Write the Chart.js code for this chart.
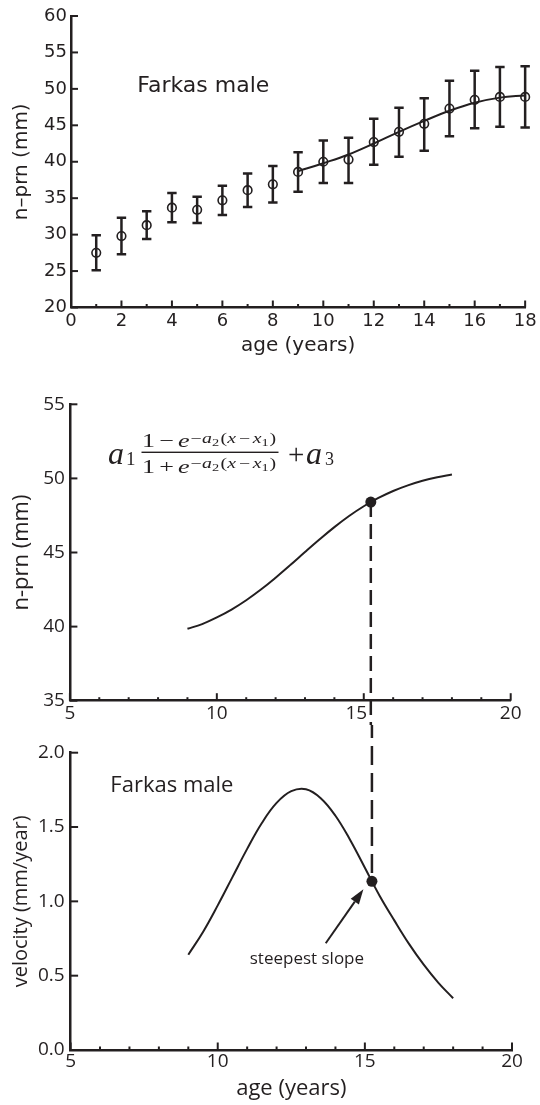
<!DOCTYPE html>
<html>
<head>
<meta charset="utf-8">
<title>Farkas male n-prn growth</title>
<script src="https://cdn.jsdelivr.net/npm/chart.js@4.4.0/dist/chart.umd.min.js"></script>
<style>
    html, body { margin: 0; padding: 0; background: #ffffff; }
    #wrap { position: relative; width: 540px; height: 1105px; overflow: hidden; }
    canvas { position: absolute; left: 0; }
    #topChart { top: 0; }
    #midChart { top: 365px; }
    #botChart { top: 725px; }
</style>
</head>
<body>
<div id="wrap">
    <canvas id="topChart" width="540" height="365"></canvas>
    <canvas id="midChart" width="540" height="360"></canvas>
    <canvas id="botChart" width="540" height="380"></canvas>
</div>
<script>
    // ---- data ----
    // top panel: measured means with +/- bars
    const ages = [1, 2, 3, 4, 5, 6, 7, 8, 9, 10, 11, 12, 13, 14, 15, 16, 17, 18];
    const meanNprn = [27.5, 29.8, 31.3, 33.7, 33.4, 34.7, 36.1, 36.9, 38.6, 40.0, 40.3, 42.7, 44.1, 45.2, 47.3, 48.5, 48.9, 48.9];
    const upperNprn = [29.9, 32.3, 33.2, 35.7, 35.2, 36.7, 38.4, 39.4, 41.3, 42.9, 43.3, 45.9, 47.4, 48.7, 51.1, 52.5, 53.0, 53.1];
    const lowerNprn = [25.1, 27.3, 29.4, 31.7, 31.6, 32.7, 33.8, 34.4, 35.9, 37.1, 37.1, 39.6, 40.7, 41.5, 43.5, 44.6, 44.8, 44.7];

    // top panel: fitted curve over the measured points
    const fitAges = [9, 10, 11, 12, 13, 14, 15, 16, 17, 18];
    const fitNprn = [38.7, 39.8, 41.0, 42.5, 44.1, 45.6, 47.0, 48.1, 48.8, 49.1];

    // middle / bottom panels: model curve and its velocity
    const modelAges = [9, 9.5, 10, 10.5, 11, 11.5, 12, 12.5, 13, 13.5, 14, 14.5, 15, 15.5, 16, 16.5, 17, 17.5, 18];
    const modelNprn = [39.85, 40.17, 40.62, 41.15, 41.78, 42.50, 43.30, 44.15, 45.03, 45.89, 46.71, 47.46, 48.12, 48.68, 49.15, 49.53, 49.84, 50.08, 50.27];
    const modelVelocity = [0.641, 0.794, 0.973, 1.163, 1.353, 1.527, 1.662, 1.741, 1.754, 1.694, 1.576, 1.413, 1.226, 1.038, 0.872, 0.714, 0.574, 0.452, 0.348];

    // point of steepest slope
    const steepestAge = 15.24;
    const steepestNprn = 48.4;
    const steepestVelocity = 1.135;

    const INK = '#231f20';
    const FONT_TOP = "'DejaVu Sans', sans-serif";
    const FONT_LOW = "'Open Sans', 'Noto Sans', sans-serif";
    const SERIF = "'Liberation Serif', 'DejaVu Serif', serif";

    function points(xs, ys) {
        return xs.map((x, i) => ({ x: x, y: ys[i] }));
    }

    // ---- plugins ----

    // short tick marks pointing into the plot
    function innerTicks(major, minor) {
        return {
            id: 'innerTicks',
            afterDraw(chart) {
                const { ctx, chartArea } = chart;
                const xs = chart.scales.x;
                const ys = chart.scales.y;
                ctx.save();
                ctx.strokeStyle = INK;
                ctx.lineWidth = 2;
                xs.ticks.forEach(t => {
                    const px = xs.getPixelForValue(t.value);
                    const len = t.label !== '' ? major : minor;
                    ctx.beginPath();
                    ctx.moveTo(px, chartArea.bottom);
                    ctx.lineTo(px, chartArea.bottom - len);
                    ctx.stroke();
                });
                ys.ticks.forEach(t => {
                    const py = ys.getPixelForValue(t.value);
                    const len = t.label !== '' ? major : minor;
                    ctx.beginPath();
                    ctx.moveTo(chartArea.left, py);
                    ctx.lineTo(chartArea.left + len, py);
                    ctx.stroke();
                });
                ctx.restore();
            }
        };
    }

    // free text placed in data coordinates
    function notes(list) {
        return {
            id: 'notes',
            afterDatasetsDraw(chart) {
                const { ctx } = chart;
                const xs = chart.scales.x;
                const ys = chart.scales.y;
                ctx.save();
                ctx.fillStyle = INK;
                ctx.textBaseline = 'middle';
                list.forEach(n => {
                    ctx.font = n.font;
                    ctx.textAlign = n.align;
                    ctx.fillText(n.text, xs.getPixelForValue(n.x), ys.getPixelForValue(n.y));
                });
                ctx.restore();
            }
        };
    }

    // vertical bars with caps for the top panel
    const errorBars = {
        id: 'errorBars',
        beforeDatasetsDraw(chart) {
            const { ctx } = chart;
            const xs = chart.scales.x;
            const ys = chart.scales.y;
            const cap = 4.7;
            ctx.save();
            ctx.strokeStyle = INK;
            ctx.lineWidth = 2.5;
            ages.forEach((age, i) => {
                const px = xs.getPixelForValue(age);
                const top = ys.getPixelForValue(upperNprn[i]);
                const bot = ys.getPixelForValue(lowerNprn[i]);
                ctx.beginPath();
                ctx.moveTo(px, top);
                ctx.lineTo(px, bot);
                ctx.moveTo(px - cap, top);
                ctx.lineTo(px + cap, top);
                ctx.moveTo(px - cap, bot);
                ctx.lineTo(px + cap, bot);
                ctx.stroke();
            });
            ctx.restore();
        }
    };

    // dashed drop line at the steepest point, running off the canvas edge
    function dropLine(value, towardBottom, dash) {
        return {
            id: 'dropLine',
            beforeDatasetsDraw(chart) {
                const { ctx } = chart;
                const px = chart.scales.x.getPixelForValue(steepestAge);
                const py = chart.scales.y.getPixelForValue(value);
                ctx.save();
                ctx.strokeStyle = INK;
                ctx.lineWidth = 2.5;
                ctx.setLineDash(dash);
                ctx.beginPath();
                if (towardBottom) {
                    ctx.moveTo(px, py);
                    ctx.lineTo(px, chart.height);
                } else {
                    ctx.lineDashOffset = 6;
                    ctx.moveTo(px, 0);
                    ctx.lineTo(px, py);
                }
                ctx.stroke();
                ctx.restore();
            }
        };
    }

    // one row of the fraction (numerator or denominator), squeezed to a width
    function fracRow(ctx, op, left, base, width) {
        const runs = [
            // text, size, style, dy, gap before
            ['1', 19, '', 0, 0],
            [op, 19, '', 0, 3],
            ['e', 19, 'italic ', 0, 3],
            ['\u2212', 14.5, '', -4.5, 0.5],
            ['a', 14.5, 'italic ', -4.5, 0.5],
            ['2', 10.5, '', -1.5, 0],
            ['(', 14.5, '', -4.5, 1],
            ['x', 14.5, 'italic ', -4.5, 0],
            ['\u2212', 14.5, '', -4.5, 2],
            ['x', 14.5, 'italic ', -4.5, 2],
            ['1', 10.5, '', -1.5, 0],
            [')', 14.5, '', -4.5, 0.5]
        ];
        let total = 0;
        runs.forEach(r => {
            ctx.font = r[2] + r[1] + 'px ' + SERIF;
            total += r[4] + ctx.measureText(r[0]).width;
        });
        ctx.save();
        ctx.translate(left, base);
        ctx.scale(width / total, 1);
        let cx = 0;
        runs.forEach(r => {
            ctx.font = r[2] + r[1] + 'px ' + SERIF;
            cx += r[4];
            ctx.fillText(r[0], cx, r[3]);
            cx += ctx.measureText(r[0]).width;
        });
        ctx.restore();
    }

    const formula = {
        id: 'formula',
        afterDraw(chart) {
            const { ctx } = chart;
            ctx.save();
            ctx.fillStyle = INK;
            ctx.textAlign = 'left';
            ctx.textBaseline = 'alphabetic';
            ctx.font = 'italic 32px ' + SERIF;
            ctx.fillText('a', 108, 99);
            ctx.font = '19px ' + SERIF;
            ctx.fillText('1', 126, 100);
            fracRow(ctx, '\u2212', 142, 82, 134);
            ctx.fillRect(141.5, 86.6, 137, 1.4);
            fracRow(ctx, '+', 142, 107.5, 134);
            ctx.font = '29px ' + SERIF;
            ctx.fillText('+', 288, 99);
            ctx.font = 'italic 32px ' + SERIF;
            ctx.fillText('a', 306, 99);
            ctx.font = '18px ' + SERIF;
            ctx.fillText('3', 325, 100);
            ctx.restore();
        }
    };

    // arrow pointing at the steepest point
    const arrowFrom = { x: 13.67, y: 0.718 };
    const arrowTo = { x: 14.95, y: 1.081 };
    const arrow = {
        id: 'arrow',
        afterDatasetsDraw(chart) {
            const { ctx } = chart;
            const xs = chart.scales.x;
            const ys = chart.scales.y;
            const x0 = xs.getPixelForValue(arrowFrom.x), y0 = ys.getPixelForValue(arrowFrom.y);
            const x1 = xs.getPixelForValue(arrowTo.x), y1 = ys.getPixelForValue(arrowTo.y);
            const ang = Math.atan2(y1 - y0, x1 - x0);
            const head = 15, half = 5;
            const bx = x1 - head * Math.cos(ang), by = y1 - head * Math.sin(ang);
            ctx.save();
            ctx.strokeStyle = INK;
            ctx.fillStyle = INK;
            ctx.lineWidth = 2;
            ctx.beginPath();
            ctx.moveTo(x0, y0);
            ctx.lineTo(bx, by);
            ctx.stroke();
            ctx.beginPath();
            ctx.moveTo(x1, y1);
            ctx.lineTo(bx + half * Math.sin(ang), by - half * Math.cos(ang));
            ctx.lineTo(bx - half * Math.sin(ang), by + half * Math.cos(ang));
            ctx.closePath();
            ctx.fill();
            ctx.restore();
        }
    };

    // ---- shared axis helpers ----
    function xAxis(min, max, opts) {
        return {
            type: 'linear',
            min: min,
            max: max,
            afterFit: s => { s.height = opts.height; },
            border: { display: true, color: INK, width: 2.5 },
            grid: { display: false, drawTicks: false },
            ticks: {
                stepSize: 1,
                autoSkip: false,
                maxRotation: 0,
                padding: opts.padding,
                color: INK,
                font: { family: opts.family, size: opts.size },
                callback: opts.label || (v => (v % opts.every === 0 ? String(v) : ''))
            },
            title: opts.title ? {
                display: true,
                text: opts.title,
                color: INK,
                font: { family: opts.family, size: opts.titleSize },
                padding: 0
            } : { display: false }
        };
    }

    function yAxis(min, max, opts) {
        return {
            type: 'linear',
            min: min,
            max: max,
            afterFit: s => { s.width = opts.width; },
            border: { display: true, color: INK, width: 2.5 },
            grid: { display: false, drawTicks: false },
            ticks: {
                stepSize: opts.step,
                autoSkip: false,
                padding: opts.padding,
                color: INK,
                font: { family: opts.family, size: opts.size },
                callback: opts.format
            },
            title: {
                display: true,
                text: opts.title,
                color: INK,
                font: { family: opts.family, size: opts.titleSize },
                padding: { top: opts.titlePad, bottom: 0 }
            }
        };
    }

    const baseOptions = {
        responsive: false,
        animation: false,
        devicePixelRatio: 1,
        events: [],
        plugins: { legend: { display: false }, tooltip: { enabled: false } }
    };

    // ---- top: measured data ----
    new Chart(document.getElementById('topChart'), {
        type: 'scatter',
        data: {
            datasets: [{
                data: points(fitAges, fitNprn),
                showLine: true,
                tension: 0.4,
                borderColor: INK,
                borderWidth: 2,
                pointRadius: 0,
                fill: false
            }, {
                data: points(ages, meanNprn),
                pointStyle: 'circle',
                pointRadius: 4.3,
                borderWidth: 1.6,
                borderColor: INK,
                backgroundColor: 'rgba(0,0,0,0)',
                clip: false
            }]
        },
        options: Object.assign({}, baseOptions, {
            layout: { padding: { top: 16, right: 14, bottom: 7, left: 0 } },
            scales: {
                x: xAxis(0, 18, { height: 50.5, padding: 3.4, family: FONT_TOP, size: 18, every: 2, title: 'age (years)', titleSize: 20 }),
                y: yAxis(20, 60, { width: 71, step: 5, padding: 4, family: FONT_TOP, size: 18, title: 'n\u2013prn (mm)', titleSize: 20, titlePad: 9.5, format: v => String(v) })
            }
        }),
        plugins: [innerTicks(7, 3.5), errorBars, notes([
            { text: 'Farkas male', x: 2.63, y: 50.3, align: 'left', font: '22px ' + FONT_TOP }
        ])]
    });

    // ---- middle: model curve ----
    // the "15" label sits a little left of its tick, clear of the dashed line
    const midLabel = v => (v === 15 ? '15   ' : (v % 5 === 0 ? String(v) : ''));

    new Chart(document.getElementById('midChart'), {
        type: 'scatter',
        data: {
            datasets: [{
                data: points(modelAges, modelNprn),
                showLine: true,
                tension: 0.4,
                borderColor: INK,
                borderWidth: 2,
                pointRadius: 0,
                fill: false
            }, {
                data: [{ x: steepestAge, y: steepestNprn }],
                pointRadius: 5.5,
                borderWidth: 0,
                backgroundColor: INK
            }]
        },
        options: Object.assign({}, baseOptions, {
            layout: { padding: { top: 39.3, right: 29.3, bottom: 0, left: 0 } },
            scales: {
                x: xAxis(5, 20, { height: 24.3, padding: 1.6, family: FONT_LOW, size: 19, every: 5, label: midLabel }),
                y: yAxis(35, 55, { width: 69.9, step: 5, padding: 5, family: FONT_LOW, size: 19, title: 'n-prn (mm)', titleSize: 22, titlePad: 8.3, format: v => String(v) })
            }
        }),
        plugins: [innerTicks(7.5, 3.5), dropLine(steepestNprn, true, [15, 7]), formula]
    });

    // ---- bottom: velocity ----
    new Chart(document.getElementById('botChart'), {
        type: 'scatter',
        data: {
            datasets: [{
                data: points(modelAges, modelVelocity),
                showLine: true,
                tension: 0.4,
                borderColor: INK,
                borderWidth: 2,
                pointRadius: 0,
                fill: false
            }, {
                data: [{ x: steepestAge, y: steepestVelocity }],
                pointRadius: 5.5,
                borderWidth: 0,
                backgroundColor: INK
            }]
        },
        options: Object.assign({}, baseOptions, {
            layout: { padding: { top: 27.7, right: 28, bottom: 2.8, left: 0 } },
            scales: {
                x: xAxis(5, 20, { height: 52.2, padding: 0.3, family: FONT_LOW, size: 19, every: 5, title: 'age (years)', titleSize: 22 }),
                y: yAxis(0, 2, { width: 70.6, step: 0.5, padding: 6, family: FONT_LOW, size: 19, title: 'velocity (mm/year)', titleSize: 20, titlePad: 9.5, format: v => v.toFixed(1) })
            }
        }),
        plugins: [innerTicks(7.5, 3.5), dropLine(steepestVelocity, false, [19, 8]), arrow, notes([
            { text: 'Farkas male', x: 6.35, y: 1.776, align: 'left', font: '22px ' + FONT_LOW },
            { text: 'steepest slope', x: 13.03, y: 0.612, align: 'center', font: '17px ' + FONT_LOW }
        ])]
    });
</script>
</body>
</html>
